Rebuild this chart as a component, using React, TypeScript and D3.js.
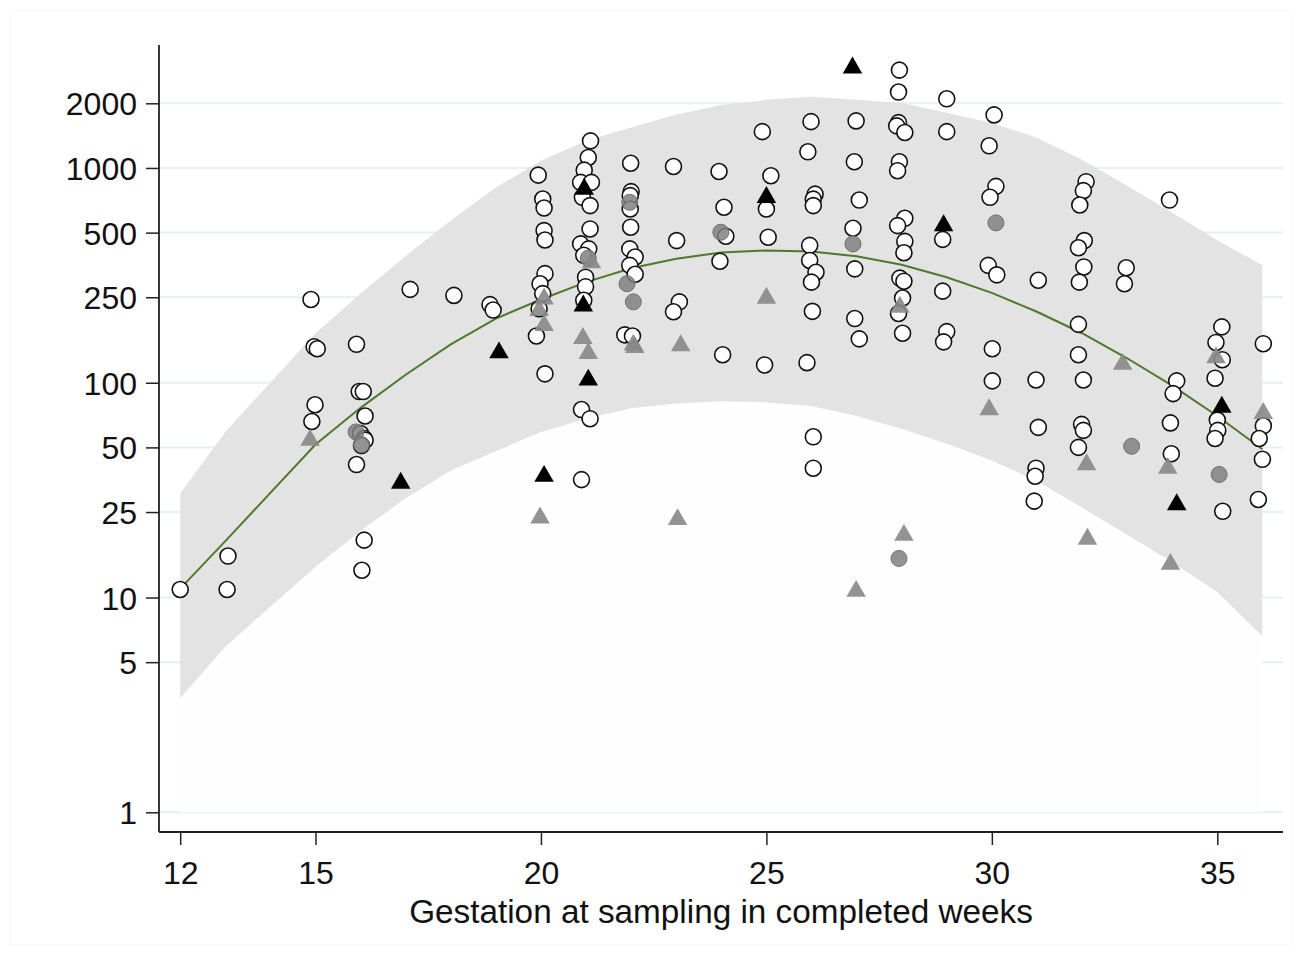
import React, { useEffect, useRef } from 'react';
import * as d3 from 'd3';

// fitted curve and prediction band, read at the observed weeks
const weeks = [12, 13, 15, 16, 17, 18, 19, 20, 21, 22, 23, 24, 25, 26, 27, 28, 29, 30, 31, 32, 33, 34, 35, 36];
const fitted = [11, 18.3, 51.6, 76.4, 109, 151, 199, 244, 294, 341, 378, 404, 413, 408, 388, 354, 310, 262, 214, 170, 130, 97, 70, 49];
const upperBand = [30.5, 59, 170, 260, 389, 570, 810, 1080, 1340, 1545, 1776, 1963, 2075, 2145, 2075, 2009, 1808, 1618, 1384, 1091, 826, 618, 461, 352];
const lowerBand = [3.4, 5.9, 13.9, 20.4, 29, 39, 48, 59, 68, 76, 80, 82, 81, 78, 70, 61, 52, 43.5, 34.9, 26.2, 19.6, 14.6, 10.6, 6.6];

const xTicks = [12, 15, 20, 25, 30, 35];
const yTicks = [1, 5, 10, 25, 50, 100, 250, 500, 1000, 2000];

// [week, value]
const openCircles: [number, number][] = [
    [12.0, 10.9], [13.06, 15.6], [13.04, 10.9],
    [14.9, 244], [14.97, 147], [15.04, 144], [14.99, 79], [14.92, 66],
    [15.91, 151], [15.97, 91], [16.06, 91], [16.1, 70], [16.0, 58], [16.08, 55], [16.1, 54], [16.02, 51], [15.91, 41.6], [16.08, 18.5], [16.03, 13.4],
    [17.1, 272], [18.07, 255], [18.87, 231], [18.94, 218],
    [19.94, 926], [20.04, 717], [20.07, 651], [20.07, 511], [20.09, 462], [20.09, 322], [19.98, 289], [20.04, 260], [19.96, 221], [19.9, 165], [20.09, 110],
    [21.1, 1337], [21.05, 1119], [20.96, 977], [20.88, 857], [21.12, 857], [20.92, 730], [21.09, 668], [21.09, 520], [20.88, 443], [21.06, 420], [20.95, 392], [20.99, 310], [20.99, 280], [20.95, 242], [20.9, 75], [21.09, 68], [20.9, 35.4],
    [21.99, 1052], [22.0, 776], [21.98, 743], [21.98, 644], [21.99, 530], [21.97, 420], [22.09, 385], [21.97, 352], [22.09, 320], [21.86, 167], [22.03, 165],
    [22.94, 1016], [23.01, 459], [23.07, 238], [22.94, 214],
    [23.95, 963], [24.06, 656], [24.1, 481], [23.97, 368], [24.03, 135],
    [24.91, 1476], [25.1, 920], [25.0, 644], [25.04, 476], [24.96, 121],
    [25.99, 1643], [25.92, 1189], [26.08, 755], [26.04, 716], [26.04, 668], [25.96, 436], [25.96, 371], [26.1, 327], [26.0, 294], [26.02, 215], [25.9, 124], [26.04, 56], [26.04, 40],
    [26.99, 1656], [26.95, 1069], [27.06, 709], [26.92, 524], [26.96, 339], [26.96, 199], [27.06, 160],
    [27.95, 2855], [27.93, 2256], [27.93, 1625], [27.89, 1570], [28.07, 1462], [27.95, 1069], [27.91, 971], [28.07, 583], [27.91, 539], [28.07, 455], [28.05, 403], [27.96, 307], [28.05, 297], [28.02, 248], [27.93, 210], [28.02, 170],
    [29.0, 2099], [29.0, 1476], [28.91, 465], [28.91, 267], [29.0, 173], [28.93, 155],
    [30.05, 1766], [29.94, 1268], [30.09, 821], [29.96, 730], [29.92, 352], [30.11, 318], [30.01, 144], [30.01, 102],
    [31.03, 300], [30.98, 103], [31.03, 62], [30.98, 40], [30.96, 36.7], [30.94, 28.1],
    [32.09, 863], [32.03, 784], [31.95, 672], [32.05, 459], [31.92, 425], [32.04, 346], [31.94, 294], [31.92, 187], [31.92, 135], [32.03, 103], [31.99, 64], [32.03, 60], [31.92, 50],
    [32.98, 343], [32.94, 289],
    [33.94, 709], [34.1, 102], [34.02, 89], [33.96, 65], [33.98, 46.7],
    [35.1, 182], [34.97, 154], [35.11, 128], [34.95, 105], [35.0, 67], [35.01, 60], [34.95, 55], [35.12, 25.2],
    [36.02, 152], [36.02, 63], [35.93, 55], [36.0, 44], [35.91, 28.6],
];

const grayCircles: [number, number][] = [
    [15.9, 59], [16.02, 51.5], [21.05, 380], [21.97, 692], [21.91, 289], [22.05, 238],
    [23.99, 502], [26.92, 443], [27.94, 15.2], [30.09, 555], [33.1, 50.6], [35.04, 37.4],
];

const grayTriangles: [number, number][] = [
    [14.88, 54], [20.07, 246], [19.96, 217], [20.07, 185], [20.93, 161], [21.05, 137], [21.12, 362],
    [22.05, 150], [22.08, 146], [23.1, 149], [19.98, 23.5], [23.03, 23.1], [25.0, 248], [27.96, 225],
    [26.99, 10.7], [28.05, 19.5], [29.94, 75], [32.1, 41.6], [32.12, 18.7], [32.9, 122], [33.9, 40],
    [33.96, 14.3], [34.97, 131], [36.02, 72],
];

const blackTriangles: [number, number][] = [
    [16.89, 34.1], [19.07, 138], [20.07, 36.7], [21.05, 103], [20.96, 798], [20.94, 228],
    [25.0, 730], [26.91, 2926], [28.93, 539], [34.1, 27.1], [35.1, 77],
];

function App() {
    const ref = useRef<SVGSVGElement>(null);

    useEffect(() => {
        const svg = d3.select(ref.current);
        svg.selectAll('*').remove();

        const left = 159, right = 1283, top = 45, bottom = 832;
        const font = '"Liberation Sans", Arial, Helvetica, sans-serif';

        const x = d3.scaleLinear().domain([12, 36]).range([180.2, 1262.4]);
        const y = d3.scaleLog().domain([1, 2000]).range([812.3, 103.3]);

        // faint frame
        svg.append('rect')
            .attr('x', 10).attr('y', 10).attr('width', 1281).attr('height', 935)
            .attr('fill', 'none').attr('stroke', '#f7f7f7');

        // gridlines
        svg.append('g').selectAll('line')
            .data(yTicks).enter().append('line')
            .attr('x1', left).attr('x2', right)
            .attr('y1', (d) => y(d)).attr('y2', (d) => y(d))
            .attr('stroke', '#e7eff1').attr('stroke-width', 2);

        const idx = weeks.map((w, i) => i);

        // area below the band
        const under = d3.area<number>()
            .x((i) => x(weeks[i]))
            .y0(() => y(1))
            .y1((i) => y(lowerBand[i]));
        svg.append('path').attr('d', under(idx)).attr('fill', '#fefefe');

        // prediction band
        const band = d3.area<number>()
            .x((i) => x(weeks[i]))
            .y0((i) => y(lowerBand[i]))
            .y1((i) => y(upperBand[i]));
        svg.append('path').attr('d', band(idx)).attr('fill', '#e3e3e3');

        // fitted line
        const line = d3.line<number>()
            .x((i) => x(weeks[i]))
            .y((i) => y(fitted[i]));
        svg.append('path').attr('d', line(idx))
            .attr('fill', 'none').attr('stroke', '#4d7a2a').attr('stroke-width', 2);

        // points
        svg.append('g').selectAll('circle')
            .data(openCircles).enter().append('circle')
            .attr('cx', (d) => x(d[0])).attr('cy', (d) => y(d[1])).attr('r', 8)
            .attr('fill', '#ffffff').attr('stroke', '#111').attr('stroke-width', 1.6);

        svg.append('g').selectAll('circle')
            .data(grayCircles).enter().append('circle')
            .attr('cx', (d) => x(d[0])).attr('cy', (d) => y(d[1])).attr('r', 8)
            .attr('fill', '#808080').attr('fill-opacity', 0.85)
            .attr('stroke', '#707070').attr('stroke-width', 1);

        const tri = d3.symbol().type(d3.symbolTriangle).size(165);
        svg.append('g').selectAll('path')
            .data(grayTriangles).enter().append('path')
            .attr('d', tri)
            .attr('transform', (d) => 'translate(' + x(d[0]) + ',' + y(d[1]) + ')')
            .attr('fill', '#878787').attr('fill-opacity', 0.9);

        svg.append('g').selectAll('path')
            .data(blackTriangles).enter().append('path')
            .attr('d', tri)
            .attr('transform', (d) => 'translate(' + x(d[0]) + ',' + y(d[1]) + ')')
            .attr('fill', '#000');

        // y axis
        const yAxis = svg.append('g')
            .attr('transform', 'translate(' + left + ',0)')
            .call(d3.axisLeft(y).tickValues(yTicks).tickSize(13).tickPadding(9).tickFormat(d3.format('d')));
        yAxis.select('.domain').remove();
        yAxis.selectAll('line').attr('stroke', '#222').attr('stroke-width', 1.5);
        yAxis.selectAll('text')
            .attr('font-family', font).attr('font-size', 32).attr('fill', '#111').attr('dy', '0.36em');

        // x axis
        const xAxis = svg.append('g')
            .attr('transform', 'translate(0,' + bottom + ')')
            .call(d3.axisBottom(x).tickValues(xTicks).tickSize(13).tickPadding(16));
        xAxis.select('.domain').remove();
        xAxis.selectAll('line').attr('stroke', '#222').attr('stroke-width', 1.5);
        xAxis.selectAll('text')
            .attr('font-family', font).attr('font-size', 32).attr('fill', '#111');

        svg.append('line')
            .attr('x1', left).attr('x2', left).attr('y1', top).attr('y2', bottom)
            .attr('stroke', '#222').attr('stroke-width', 1.8);
        svg.append('line')
            .attr('x1', left).attr('x2', right).attr('y1', bottom).attr('y2', bottom)
            .attr('stroke', '#222').attr('stroke-width', 1.8);

        svg.append('text')
            .attr('x', (left + right) / 2).attr('y', 923)
            .attr('text-anchor', 'middle')
            .attr('font-family', font).attr('font-size', 33.3).attr('fill', '#111')
            .text('Gestation at sampling in completed weeks');
    }, []);

    return (
        <svg ref={ref} width={1301} height={955}
            style={{ position: 'absolute', left: 0, top: 0, background: '#fff' }}></svg>
    );
}

export default App;
